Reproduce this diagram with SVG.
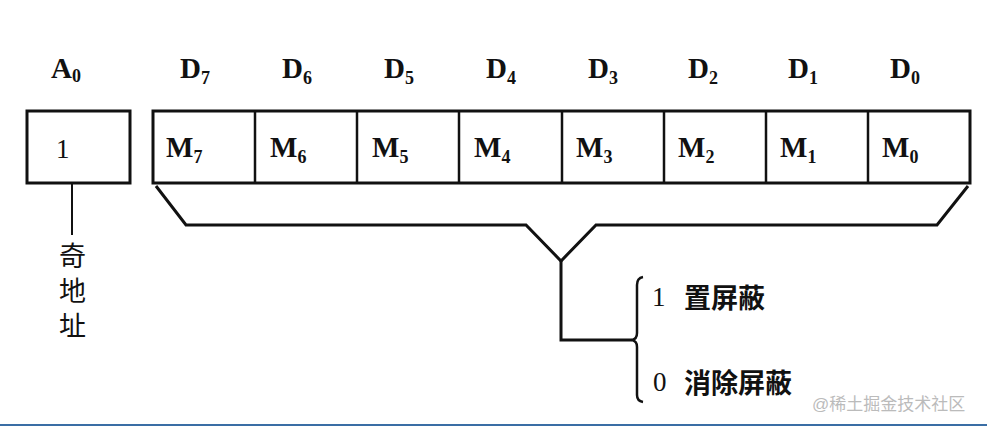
<svg xmlns="http://www.w3.org/2000/svg" width="987" height="426" viewBox="0 0 987 426">
<style>
.s{font-family:"Liberation Serif",serif;font-weight:bold;fill:#111}
.b{font-size:29px}.sub{font-size:18px}
.c{font-family:"Liberation Serif","Noto Sans CJK SC",serif;font-size:27px;fill:#111}
.cb{font-family:"Liberation Serif","Noto Sans CJK SC",serif;font-size:27px;font-weight:bold;fill:#111}
.ln{fill:none;stroke:#111;stroke-width:3}
</style>
<rect width="987" height="426" fill="#fff"/>
<g id="a0">
<text class="s b" x="51" y="78">A<tspan class="sub" dy="4">0</tspan></text>
<rect class="ln" x="27" y="111" width="103" height="72"/>
<text class="c" x="56" y="158">1</text>
<line x1="72" y1="183" x2="72" y2="235" stroke="#111" stroke-width="2"/>
<text class="c" x="59" y="266">奇</text><text class="c" x="59" y="301">地</text><text class="c" x="59" y="336">址</text>
</g>
<g id="data">
<rect class="ln" x="153" y="111" width="817" height="72"/>
<g stroke="#111" stroke-width="2.5">
<line x1="255" y1="111" x2="255" y2="183"/><line x1="357" y1="111" x2="357" y2="183"/><line x1="459" y1="111" x2="459" y2="183"/><line x1="562" y1="111" x2="562" y2="183"/><line x1="664" y1="111" x2="664" y2="183"/><line x1="766" y1="111" x2="766" y2="183"/><line x1="868" y1="111" x2="868" y2="183"/></g>
<g class="s">
<text class="b" x="180" y="78">D<tspan class="sub" dy="6">7</tspan></text>
<text class="b" x="282" y="78">D<tspan class="sub" dy="6">6</tspan></text>
<text class="b" x="384" y="78">D<tspan class="sub" dy="6">5</tspan></text>
<text class="b" x="486" y="78">D<tspan class="sub" dy="6">4</tspan></text>
<text class="b" x="588" y="78">D<tspan class="sub" dy="6">3</tspan></text>
<text class="b" x="688" y="78">D<tspan class="sub" dy="6">2</tspan></text>
<text class="b" x="788" y="78">D<tspan class="sub" dy="6">1</tspan></text>
<text class="b" x="890" y="78">D<tspan class="sub" dy="6">0</tspan></text>
<text class="b" x="166" y="157">M<tspan class="sub" dy="6">7</tspan></text>
<text class="b" x="270" y="157">M<tspan class="sub" dy="6">6</tspan></text>
<text class="b" x="372" y="157">M<tspan class="sub" dy="6">5</tspan></text>
<text class="b" x="474" y="157">M<tspan class="sub" dy="6">4</tspan></text>
<text class="b" x="576" y="157">M<tspan class="sub" dy="6">3</tspan></text>
<text class="b" x="678" y="157">M<tspan class="sub" dy="6">2</tspan></text>
<text class="b" x="780" y="157">M<tspan class="sub" dy="6">1</tspan></text>
<text class="b" x="882" y="157">M<tspan class="sub" dy="6">0</tspan></text>
</g>
</g>
<g id="connectors">
<polyline class="ln" points="156,186 186,225 526,225 561,261 596,225 937,225 968,186"/>
<polyline class="ln" points="561,261 561,340 632,340"/>
<path d="M643,277 Q637,278 637,285 L637,333 Q637,339 632,340 Q637,341 637,347 L637,395 Q637,401 643,402" fill="none" stroke="#111" stroke-width="2.5"/>
</g>
<g id="labels">
<text class="c" x="652" y="306">1</text><text class="cb" x="684" y="308">置屏蔽</text>
<text class="c" x="653" y="391">0</text><text class="cb" x="684" y="393">消除屏蔽</text>
<text x="812" y="410" font-family="Liberation Sans,Noto Sans CJK SC,sans-serif" font-size="17" fill="#bbb">@稀土掘金技术社区</text>
</g>
<line x1="0" y1="425" x2="987" y2="425" stroke="#3a6ea5" stroke-width="2"/>
</svg>
